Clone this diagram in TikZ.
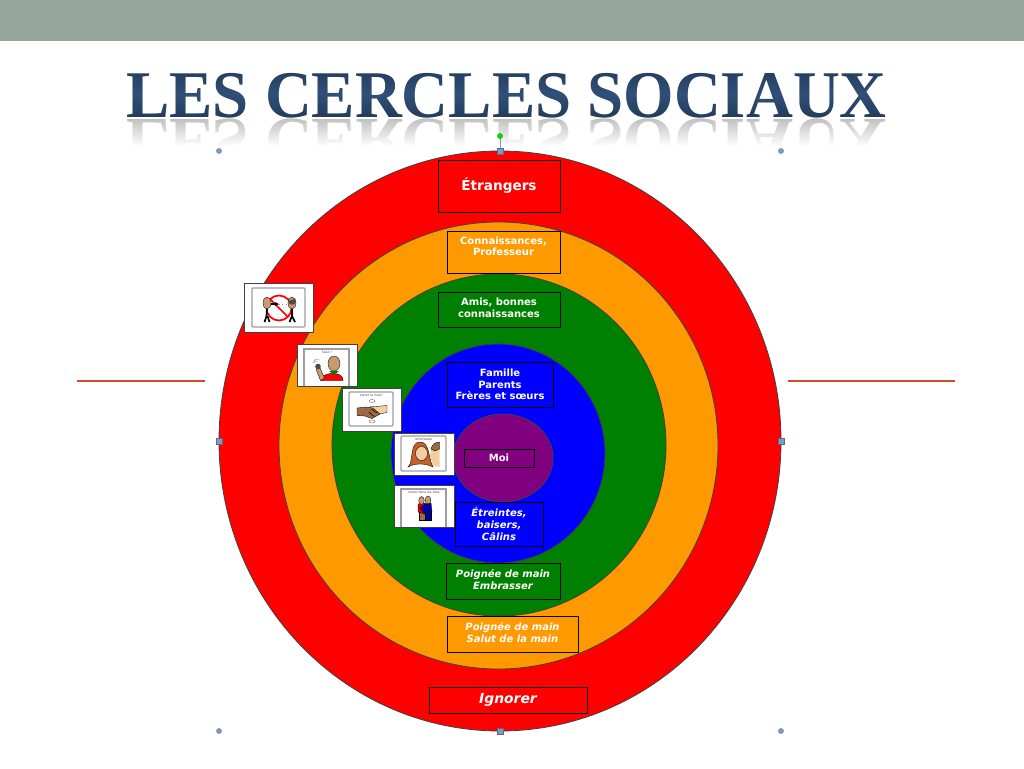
\documentclass[tikz,border=0pt]{standalone}
\usepackage{fontspec}
\setmainfont{DejaVu Sans}
\newfontfamily\titlefont{Liberation Serif}
\usetikzlibrary{fadings}
\definecolor{bandgray}{HTML}{94A59B}
\definecolor{ringred}{HTML}{FF0000}
\definecolor{ringorange}{HTML}{FF9900}
\definecolor{ringgreen}{HTML}{008000}
\definecolor{ringblue}{HTML}{0000FF}
\definecolor{ringpurple}{HTML}{800080}
\definecolor{titleblue}{HTML}{223A58}
\definecolor{titlemid}{HTML}{2F5079}
\definecolor{rulered}{HTML}{D5492B}
\definecolor{handleblue}{HTML}{7F9BBF}
\definecolor{skin}{HTML}{C89A70}
\definecolor{skindark}{HTML}{9C6A45}
\definecolor{skinlight}{HTML}{F5CDA5}
\definecolor{hair}{HTML}{C0622A}
\tikzset{
  ring/.style={draw=black!75,line width=0.6pt},
  sz/.style 2 args={minimum width=#1*0.75pt,minimum height=#2*0.75pt,inner sep=0pt},
  lab/.style={draw=black,line width=0.7pt,text=white,align=center,font=\bfseries\fontsize{7.5pt}{8.8pt}\selectfont},
  labit/.style={lab,font=\bfseries\itshape\fontsize{7.5pt}{8.8pt}\selectfont},
  card/.style={draw=black!75,fill=white,line width=0.7pt,inner sep=0pt},
  innerbox/.style={draw=black!38,line width=1pt},
  captxt/.style={font=\fontsize{2.4pt}{3pt}\selectfont,text=black!70,inner sep=0pt},
  titletext/.style={font=\titlefont\bfseries\fontsize{50pt}{50pt}\selectfont,inner sep=0pt,anchor=base,transform shape},
  handle/.style={fill=handleblue,draw=handleblue!70!black,line width=0.2pt},
  rulerline/.style={draw=rulered,line width=1.5pt},
  fine/.style={draw=black,line width=0.25pt},
}
\newcommand{\raiselab}{\\[-6pt]\mbox{}}
\begin{document}
\begin{tikzpicture}[x=0.75pt,y=-0.75pt]
\useasboundingbox (0,0) rectangle (1024,768);
\fill[white] (0,0) rectangle (1024,768);
\fill[bandgray] (0,0) rectangle (1024,41);

% side rules
\coordinate (la) at (77,380.5); \coordinate (lb) at (205,380.5);
\coordinate (ra) at (788,380.5); \coordinate (rb) at (955,380.5);
\draw[rulerline] (la) -- (lb);
\draw[rulerline] (ra) -- (rb);

% title
\begin{scope}[shift={(506.5,117.5)},xscale=0.973,yscale=1]
\node[titletext,text=titleblue] (title) at (0,0) {LES CERCLES SOCIAUX};
\end{scope}
\begin{scope}[blend mode=lighten]
\shade[top color=titleblue,bottom color=titlemid,draw=none] (110,66) rectangle (900,94);
\shade[top color=titlemid,bottom color=titleblue,draw=none] (110,94) rectangle (900,119);
\end{scope}
% reflection
\begin{scope}[shift={(506.5,119.5)},xscale=0.973,yscale=-1]
\node[titletext,text=black!24] (titlerefl) at (0,0) {LES CERCLES SOCIAUX};
\end{scope}
\fill[white,path fading=north] (100,119) rectangle (930,146);
\fill[white] (100,146) rectangle (930,175);

% rings
\draw[ring,fill=ringred] (500,441) ellipse [x radius=281,y radius=290];
\draw[ring,fill=ringorange] (498.5,445.5) ellipse [x radius=219.5,y radius=223.5];
\draw[ring,fill=ringgreen] (499,445) ellipse [x radius=167,y radius=171];
\draw[ring,fill=ringblue] (498,453.5) ellipse [x radius=107,y radius=109.5];
\draw[ring,fill=ringpurple] (503,458) ellipse [x radius=50,y radius=44];

% labels
\node[lab,fill=ringred,sz={122}{52},font=\bfseries\fontsize{10.2pt}{11pt}\selectfont] (etr) at (499,186) {Étrangers};
\node[lab,fill=ringorange,sz={113}{42}] (con) at (503.5,252) {Connaissances,\\Professeur\\\mbox{}};
\node[lab,fill=ringgreen,sz={122}{35}] (ami) at (499,309.5) {Amis, bonnes\\connaissances\raiselab};
\node[lab,fill=ringblue,sz={106}{45}] (fam) at (500,384.5) {Famille\\Parents\\Frères et sœurs};
\node[lab,fill=ringpurple,sz={70}{18}] (moi) at (499,458) {Moi};
\node[labit,fill=ringblue,sz={88}{44}] (etre) at (499,524) {Étreintes,\\baisers,\\Câlins};
\node[labit,fill=ringgreen,sz={114}{36}] (poi) at (503,581) {Poignée de main\\Embrasser\raiselab};
\node[labit,fill=ringorange,sz={131}{36}] (sal) at (512.5,634) {Poignée de main\\Salut de la main\raiselab};
\node[labit,fill=ringred,sz={158}{26},font=\bfseries\itshape\fontsize{10.4pt}{11pt}\selectfont] (ign) at (508,700) {Ignorer};

% card 1
\node[card,sz={69}{49}] (c1) at (278.5,307.5) {};
\draw[innerbox,rounded corners=0.8pt] (252,288) rectangle (305,327);
\draw[ringred,line width=1.3pt] (279,308) circle [radius=12.5];
\draw[ringred,line width=1.3pt] (270,299) -- (288,317);
\draw[black,line width=1.3pt] (267,309) -- (266.5,316) -- (264.5,322) (267.5,316) -- (269.5,322)
 (292,309) -- (292,316) -- (289.5,322) (292,316) -- (295,322);
\fill[skin,fine] (267,303) ellipse [x radius=4,y radius=6];
\fill[skin,fine] (292,303) ellipse [x radius=4,y radius=6];
\fill[black!70] (288.2,301) arc [start angle=180,end angle=0,radius=3.8] -- (295.8,303) -- (294.5,299) -- cycle;
\draw[black,line width=0.9pt] (271,304) -- (277,304);
\fill[black] (275,302) -- (279,304) -- (275,306) -- cycle;
\draw[black!45,line width=0.6pt,dotted] (279,304) -- (288,304);

% card 2
\node[card,sz={60}{42}] (c2) at (327,365) {};
\draw[innerbox] (304,385.5) -- (304,349) -- (349,349) -- (349,385.5);
\node[captxt] (c2t) at (327,352) {Salut !};
\fill[ringred,fine] (321,380.5) .. controls (321,371) and (345,371) .. (343,380.5) -- cycle;
\fill[skin,fine] (334,363.5) ellipse [x radius=6,y radius=7.5];
\fill[green!50!black] (329,371) -- (339,371) -- (334,375) -- cycle;
\fill[skin,fine] (320.5,380.5) -- (316,369) -- (320,368) -- (324.5,378) -- cycle;
\fill[black!70] (318,366.5) circle [radius=2.8];
\draw[black!50,line width=0.3pt] (314,361) arc [start angle=200,end angle=320,radius=3];
\draw[black!50,line width=0.3pt] (313,363) arc [start angle=200,end angle=300,radius=3];

% card 3
\node[card,sz={59}{43}] (c3) at (371.5,409.5) {};
\draw[innerbox,rounded corners=0.8pt] (349,392) rectangle (393,426);
\node[captxt] (c3t) at (371,395) {serrer la main};
\fill[skinlight,fine] (369,407) -- (387,405.5) -- (387,412.5) -- (379,414) -- (370,416) -- cycle;
\fill[skindark,fine] (357,408) -- (366,407) -- (373,408) -- (380,414) -- (372,418.5) -- (365,416) -- (357,415.5) -- cycle;
\draw[black,line width=0.4pt] (371,409) -- (377,413) (369,412) -- (374,416.5);
\draw[black!60,line width=0.3pt] (372,401) ellipse [x radius=3,y radius=1.5];
\draw[black!60,line width=0.3pt] (372,421.5) ellipse [x radius=3,y radius=1.5];

% card 4
\node[card,sz={60}{42}] (c4) at (424,454) {};
\draw[innerbox,rounded corners=0.8pt] (401,436) rectangle (446,471);
\node[captxt] (c4t) at (424,439) {embrasser};
\fill[hair,fine] (408,467) .. controls (414,462) and (409,442) .. (420,442) .. controls (430,442) and (428,458) .. (433,467) .. controls (425,463) and (415,463) .. (408,467) -- cycle;
\fill[skinlight,fine] (421.5,453.5) ellipse [x radius=6,y radius=7];
\fill[skinlight] (431,449) -- (439.5,447) -- (439.5,467) -- (433.5,466) -- (430,456) -- cycle;
\fill[skindark,fine] (431,449) .. controls (432,444) and (436,442) .. (439.5,442) -- (439.5,449) -- (435,451) -- cycle;

% card 5
\node[card,sz={60}{42}] (c5) at (424,506) {};
\draw[innerbox] (401,526.5) -- (401,489) -- (446,489) -- (446,526.5);
\node[captxt] (c5t) at (424,492) {serrer dans les bras};
\fill[skindark,fine] (419,512) rectangle (425,520);
\fill[blue!65!black,fine] (425,512) rectangle (431,520);
\fill[red!85!black,fine] (418,504) -- (425,503) -- (431,510) -- (425,514) -- (418,512) -- cycle;
\fill[blue!65!black,fine] (425,504) -- (431,503) -- (432,512) -- (425,514) -- (420,508) -- cycle;
\fill[skin,fine] (421.5,500.5) ellipse [x radius=2.8,y radius=4];
\fill[skin,fine] (428,500) ellipse [x radius=2.8,y radius=4];

% selection handles
\foreach \px/\py in {219/151,781/151,219/731,781/731}{
  \fill[handle] (\px,\py) circle [radius=2.6];
}
\coordinate (htop) at (500,151);
\coordinate (hrot) at (500,136);
\draw[handleblue,line width=0.5pt] (hrot) -- (htop);
\foreach \px/\py in {500/151,219/441,781/441,500/731}{
  \fill[handle] (\px-2.7,\py-2.7) rectangle (\px+2.7,\py+2.7);
}
\fill[green!90!black,draw=green!50!black,line width=0.2pt] (hrot) circle [radius=2.6];
\end{tikzpicture}
\end{document}
